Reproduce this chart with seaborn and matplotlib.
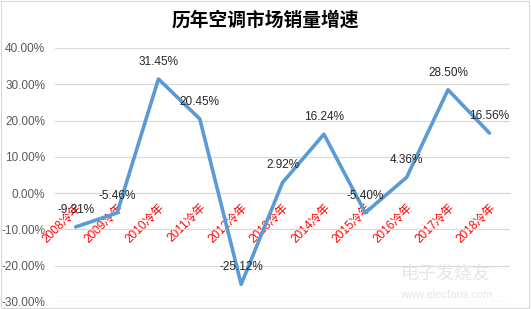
import matplotlib
matplotlib.use("Agg")
import matplotlib.pyplot as plt
import seaborn as sns
import numpy as np
import pandas as pd
from matplotlib.ticker import FixedLocator, PercentFormatter
from matplotlib.patches import Rectangle

years = ["2008冷年", "2009冷年", "2010冷年", "2011冷年", "2012冷年", "2013冷年",
         "2014冷年", "2015冷年", "2016冷年", "2017冷年", "2018冷年"]
growth = [-9.31, -5.46, 31.45, 20.45, -25.12, 2.92, 16.24, -5.40, 4.36, 28.50, 16.56]
yticks = [-30, -20, -10, 0, 10, 20, 30, 40]
title = "历年空调市场销量增速"

sns.set_style("white")
plt.rcParams['font.family'] = ['Liberation Sans', 'Noto Sans CJK SC', 'DejaVu Sans']
plt.rcParams['axes.unicode_minus'] = False

df = pd.DataFrame({"idx": np.arange(len(years)), "growth": growth})

fig = plt.figure(figsize=(5.31, 3.09), dpi=100)
ax = fig.add_axes([0.1036, 0.0227, 0.857, 0.822])

ax.set_ylim(-30, 40)
ax.set_xlim(-0.5, len(years) - 0.5)
ax.set_yticks(yticks)
ax.yaxis.set_major_formatter(PercentFormatter(decimals=2))
ax.grid(axis='y', color='#D9D9D9', linewidth=0.9)
ax.set_axisbelow(True)

sns.lineplot(data=df, x="idx", y="growth", ax=ax, color="#5B9BD5", linewidth=2.6, zorder=3)

for i, v in enumerate(growth):
    ax.annotate(f"{v:.2f}%", (i, v), xytext=(0, 8), textcoords='offset points',
                ha='center', va='bottom', fontsize=8.5, color='#262626', zorder=4)

for s in ['top', 'right', 'left']:
    ax.spines[s].set_visible(False)
ax.spines['bottom'].set_position(('data', 0))
ax.spines['bottom'].set_color('#D9D9D9')

ax.set_xticks(np.arange(len(years)))
ax.set_xticklabels(years, rotation=45, ha='right', rotation_mode='anchor',
                   color='red', fontsize=8.5)
ax.tick_params(axis='x', which='major', length=0, pad=6)
ax.xaxis.set_minor_locator(FixedLocator(np.arange(-0.5, len(years), 1)))
ax.tick_params(axis='x', which='minor', length=4, color='#D9D9D9', direction='out')
ax.tick_params(axis='y', length=0, labelsize=8.5, labelcolor='#595959', pad=7)
ax.set_xlabel("")
ax.set_ylabel("")

fig.text(0.5, 0.935, title, ha='center', va='center', fontsize=13.5, fontweight='bold', color='black',
         family=['Noto Sans CJK SC'])

fig.text(0.84, 0.115, "电子发烧友", ha='center', va='center', fontsize=13, color='#E6E6E6', zorder=0,
         family=['Noto Sans CJK SC'])
fig.text(0.84, 0.045, "www.elecfans.com", ha='center', va='center', fontsize=8, color='#E6E6E6', zorder=0)

fig.patches.append(Rectangle((0.002, 0.003), 0.994, 0.994, transform=fig.transFigure,
                             fill=False, edgecolor='#D9D9D9', linewidth=0.8))

fig.savefig("out.png", dpi=100)
